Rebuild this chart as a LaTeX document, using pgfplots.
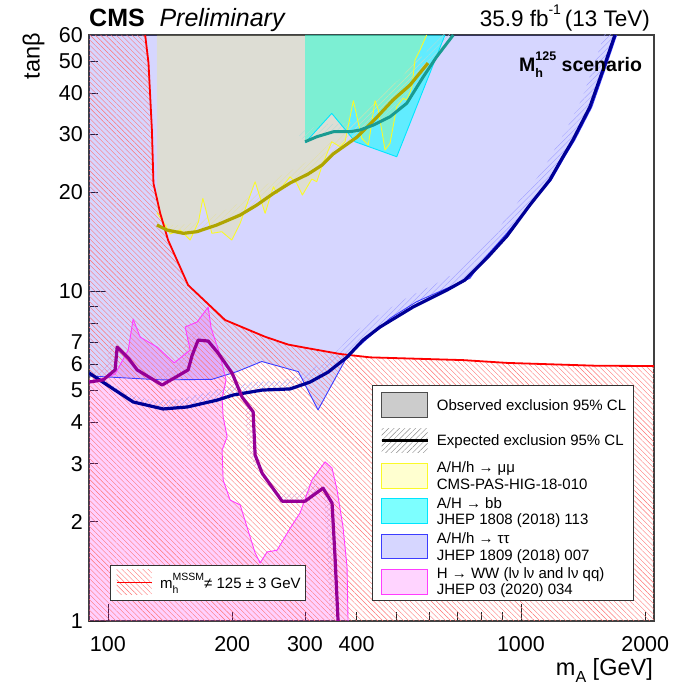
\documentclass[border=0pt]{standalone}
\usepackage{pgfplots}
\pgfplotsset{compat=1.18}
\usepackage{fontspec}
\setmainfont{Liberation Sans}
\usetikzlibrary{patterns.meta}

\definecolor{navyexp}{RGB}{0,0,150}
\definecolor{oliveexp}{RGB}{175,165,0}
\definecolor{tealexp}{RGB}{25,155,145}
\definecolor{purpleexp}{RGB}{150,0,150}
\definecolor{wwline}{RGB}{255,60,255}
\definecolor{ttline}{RGB}{60,60,255}
\definecolor{bbline}{RGB}{0,230,255}
\definecolor{mmline}{RGB}{250,250,40}
\definecolor{ttfill}{RGB}{0,0,255}
\definecolor{wwfill}{RGB}{255,0,255}
\definecolor{bbfill}{RGB}{0,255,255}
\definecolor{mmfill}{RGB}{255,255,0}
\definecolor{mhhatch}{RGB}{255,115,115}

\newcommand{\lgfont}{\fontsize{15}{18}\selectfont}
\newcommand{\smallscript}{\fontsize{10.5}{12}\selectfont}

\begin{document}
\begin{tikzpicture}[x=1pt,y=1pt]
\useasboundingbox (0,0) rectangle (674,688);
\begin{axis}[
  at={(89pt,67pt)}, anchor=south west,
  scale only axis, width=565pt, height=586pt,
  xmode=log, ymode=log,
  xmin=90, xmax=2100, ymin=1, ymax=60,
  axis line style={black!75, line width=1.1pt},
  tick pos=left, tick align=inside,
  major tick length=9pt, minor tick length=9pt,
  tick style={black!85, line width=0.7pt},
  xtick={100,200,300,400,1000,2000},
  xticklabels={100,200,300,400,1000,2000},
  minor xtick={500,600,700,800,900},
  extra x ticks={100,1000}, extra x tick labels={,},
  extra x tick style={major tick length=17pt},
  ytick={1,2,3,4,5,6,7,10,20,30,40,50,60},
  yticklabels={1,2,3,4,5,6,7,10,20,30,40,50,60},
  minor ytick={8,9},
  extra y ticks={1,10}, extra y tick labels={,},
  extra y tick style={major tick length=17pt},
  ticklabel style={font=\fontsize{21.5}{24}\selectfont},
  xticklabel style={inner sep=0pt, anchor=north, yshift=-15.5pt},
  yticklabel style={inner sep=0pt, anchor=east, xshift=-6pt},
]

% A/H/h -> tautau, observed exclusion
\addplot[fill=ttfill, fill opacity=0.16, draw=none] coordinates {
 (90,60) (90,5.54) (135.1,5.39) (178.5,5.41) (205.2,5.71) (235.8,6.13)
 (289.2,5.71) (322.7,4.37) (379.3,6.34) (482,8.29) (559.3,9.31) (661.3,10.22)
 (752.7,10.96) (809.5,12.45) (925,15.04) (1000,16.9) (1067,18.6) (1185,21.8)
 (1275,25.6) (1350,28.8) (1485,36.3) (1595,46.9) (1705,60)} --cycle;

% H -> WW, observed exclusion
\addplot[fill=wwfill, fill opacity=0.18, draw=none] coordinates {
 (90,1) (90,5.35) (98.5,5.46) (104.1,5.62) (112.0,6.64) (115.1,8.25) (119.7,7.27)
 (131.6,6.78) (144.7,6.07) (158.2,6.64) (153.8,7.80) (164.5,8.08) (174.9,8.97)
 (177.8,7.74) (185.9,6.55) (193.3,5.39) (189.0,4.75) (190.1,4.16) (194.4,3.62)
 (189.0,3.30) (190.1,2.68) (197.6,2.33) (209.0,2.25) (227.2,1.61) (233.6,1.50)
 (242.9,1.62) (256.8,1.64) (276.1,1.91) (292.0,2.13) (312.1,2.68) (335.6,3.04)
 (348.9,2.91) (358.8,2.50) (370.9,1.93) (379.3,1.46) (381.5,1)} --cycle;

% A/H -> bb, observed exclusion
\addplot[fill=bbfill, fill opacity=0.55, draw=none] coordinates {
 (300.2,60) (300.2,28.26) (348.3,34.7) (382.1,30.18) (396.6,28.46)
 (500.4,25.63) (654.8,60)} --cycle;

% A/H/h -> mumu, observed exclusion
\addplot[fill=mmfill, fill opacity=0.17, draw=none] coordinates {
 (131.4,60) (131.4,17.33) (137.6,15.91) (141.5,14.94) (149.6,15.36) (158.2,14.32)
 (165.7,16.27) (169.8,19.16) (178.5,15.01) (188.7,15.18) (199.5,14.32) (209.0,16.09)
 (218.9,18.94) (227.2,21.52) (240.2,17.26) (251.6,20.78) (256.4,19.84) (276.1,22.28)
 (286.6,21.28) (295.7,19.61) (311.6,21.93) (320.4,21.52) (329.4,23.89) (348.3,28.46)
 (364.8,27.48) (375.2,28.46) (392.9,37.9) (411.7,29.14) (427.1,27.81) (443.4,37.9)
 (451.6,35.5) (468.8,26.85) (482.0,28.14) (500.4,36.35) (519.1,38.54) (529.0,38.08)
 (544.0,41.33) (554.1,50.36) (569.7,54.0) (591.2,60)} --cycle;

% m_h outside 125 +- 3 GeV
\addplot[pattern={Lines[angle=-45,distance=3.7pt,line width=0.4pt]}, pattern color=mhhatch, draw=none] coordinates {
 (90,1) (90,60) (123.1,60) (125.4,49.3) (127.8,30.9) (128.9,21.3) (133.8,17.3)
 (139.9,14.3) (156.4,10.45) (192.2,8.19) (240,7.29) (273,6.9) (300,6.75) (365,6.46)
 (431,6.31) (724,6.19) (925,6.07) (1527,5.95) (2100,5.94) (2100,1)} --cycle;

% expected bands (hatched on the excluded side)
\addplot[pattern={Lines[angle=45,distance=3.8pt,line width=0.35pt]}, pattern color=ttfill!40, draw=none] coordinates {
 (90,5.66) (101.3,5.13) (115.1,4.62) (136.1,4.40) (155.6,4.46) (183.9,4.68) (201.0,4.85)
 (236.2,5.02) (276.1,5.06) (308.7,5.31) (341.2,5.69) (379.3,6.32) (414.7,7.12) (456,7.80)
 (548,8.97) (662.2,10.1) (732,10.83) (827.5,12.63) (925,14.73) (1051,18.29) (1175,21.8)
 (1264,25.6) (1336,28.8) (1469,36.3) (1579,46.9) (1689,60)
 (1615,63.4) (1510,49.6) (1405,38.39) (1278,30.46) (1209,27.07) (1124,23.05) (1005,19.34)
 (884.7,15.58) (791.4,13.36) (700.1,11.45) (633.3,10.68) (524.1,9.49) (436.1,8.25)
 (396.6,7.53) (362.8,6.68) (326.3,6.02) (295.2,5.62) (264.1,5.35) (225.9,5.31)
 (192.2,5.13) (175.9,4.95) (148.8,4.72) (130.2,4.65) (110.1,4.89) (96.9,5.42) (86.6,5.97)} --cycle;

\addplot[pattern={Lines[angle=45,distance=3.8pt,line width=0.35pt]}, pattern color=oliveexp!35, draw=none] coordinates {
 (131.4,15.91) (138.9,15.36) (152.4,15.01) (164.2,15.18) (183.6,15.91) (209.0,17.05)
 (229.4,18.29) (251.6,19.84) (276.1,21.33) (305.3,22.71) (330.0,24.18) (350.9,26.12)
 (401.2,29.41) (448.3,33.81) (490.0,38.1) (538.8,42.29) (595.7,49.3)
 (569.7,52.13) (515.3,44.72) (468.6,40.29) (428.8,35.75) (383.7,31.10) (335.6,27.62)
 (315.6,25.57) (292.0,24.02) (264.1,22.56) (240.6,20.98) (219.4,19.34) (199.9,18.03)
 (175.6,16.82) (157.0,16.05) (145.8,15.87) (132.8,16.24) (125.7,16.82)} --cycle;

\addplot[pattern={Lines[angle=45,distance=3.8pt,line width=0.35pt]}, pattern color=tealexp!35, draw=none] coordinates {
 (300.2,28.46) (320.4,29.47) (351.5,30.52) (385.7,30.52) (407.8,30.89) (439.2,31.98)
 (482.0,33.89) (529.0,37.21) (580.3,44.82) (625.2,51.53) (685.8,60)
 (655.9,63.45) (597.9,54.49) (555.0,47.40) (505.9,39.35) (461.0,35.84) (420.0,33.82)
 (390.0,32.67) (368.9,32.27) (336.2,32.27) (306.4,31.16) (287.1,30.10)} --cycle;

\addplot[pattern={Lines[angle=45,distance=3.8pt,line width=0.35pt]}, pattern color=purpleexp!40, draw=none] coordinates {
 (90,5.31) (97.4,5.39) (104.1,5.78) (105.3,6.78) (112.0,6.28) (117.7,5.78) (135.3,5.20)
 (156.4,5.78) (160.0,6.41) (165.4,7.12) (174.9,7.07) (184.9,6.50) (199.9,5.65) (211.3,4.78)
 (224.7,4.31) (227.2,3.19) (236.2,2.81) (264.1,2.31) (300.2,2.31) (331.8,2.53) (348.9,2.28)
 (354.8,1.56) (360.8,1)
 (345.1,1) (339.3,1.65) (333.7,2.41) (317.3,2.68) (287.1,2.44) (252.6,2.44) (225.9,2.97)
 (217.3,3.37) (214.9,4.56) (202.1,5.05) (191.2,5.97) (176.8,6.87) (167.3,7.48) (158.2,7.53)
 (153.0,6.78) (149.6,6.11) (129.4,5.50) (112.6,6.11) (107.1,6.64) (100.7,7.17) (99.6,6.11)
 (93.2,5.70) (86.1,5.62)} --cycle;

% observed boundaries
\addplot[ttline, line width=0.9pt, line join=round] coordinates {
 (90,5.54) (135.1,5.39) (178.5,5.41) (205.2,5.71) (235.8,6.13)
 (289.2,5.71) (322.7,4.37) (379.3,6.34) (482,8.29) (559.3,9.31) (661.3,10.22)
 (752.7,10.96) (809.5,12.45) (925,15.04) (1000,16.9) (1067,18.6) (1185,21.8)
 (1275,25.6) (1350,28.8) (1485,36.3) (1595,46.9) (1705,60)};
\addplot[wwline, line width=0.9pt, line join=round] coordinates {
 (90,5.35) (98.5,5.46) (104.1,5.62) (112.0,6.64) (115.1,8.25) (119.7,7.27)
 (131.6,6.78) (144.7,6.07) (158.2,6.64) (153.8,7.80) (164.5,8.08) (174.9,8.97)
 (177.8,7.74) (185.9,6.55) (193.3,5.39) (189.0,4.75) (190.1,4.16) (194.4,3.62)
 (189.0,3.30) (190.1,2.68) (197.6,2.33) (209.0,2.25) (227.2,1.61) (233.6,1.50)
 (242.9,1.62) (256.8,1.64) (276.1,1.91) (292.0,2.13) (312.1,2.68) (335.6,3.04)
 (348.9,2.91) (358.8,2.50) (370.9,1.93) (379.3,1.46) (381.5,1)};
\addplot[bbline, line width=0.9pt, line join=round] coordinates {
 (300.2,28.26) (348.3,34.7) (382.1,30.18) (396.6,28.46) (500.4,25.63) (654.8,60)};
\addplot[mmline, line width=0.9pt, line join=round] coordinates {
 (131.4,17.33) (137.6,15.91) (141.5,14.94) (149.6,15.36) (158.2,14.32)
 (165.7,16.27) (169.8,19.16) (178.5,15.01) (188.7,15.18) (199.5,14.32) (209.0,16.09)
 (218.9,18.94) (227.2,21.52) (240.2,17.26) (251.6,20.78) (256.4,19.84) (276.1,22.28)
 (286.6,21.28) (295.7,19.61) (311.6,21.93) (320.4,21.52) (329.4,23.89) (348.3,28.46)
 (364.8,27.48) (375.2,28.46) (392.9,37.9) (411.7,29.14) (427.1,27.81) (443.4,37.9)
 (451.6,35.5) (468.8,26.85) (482.0,28.14) (500.4,36.35) (519.1,38.54) (529.0,38.08)
 (544.0,41.33) (554.1,50.36) (569.7,54.0) (591.2,60)};

% m_h boundary
\addplot[red, line width=1.8pt, line join=round] coordinates {
 (123.1,60) (125.4,49.3) (127.8,30.9) (128.9,21.3) (133.8,17.3)
 (139.9,14.3) (156.4,10.45) (192.2,8.19) (240,7.29) (273,6.9) (300,6.75) (365,6.46)
 (431,6.31) (724,6.19) (925,6.07) (1527,5.95) (2100,5.94)};

% expected exclusions
\addplot[navyexp, line width=3.2pt, line join=round] coordinates {
 (90,5.66) (101.3,5.13) (115.1,4.62) (136.1,4.40) (155.6,4.46) (183.9,4.68) (201.0,4.85)
 (236.2,5.02) (276.1,5.06) (308.7,5.31) (341.2,5.69) (379.3,6.32) (414.7,7.12) (456,7.80)
 (548,8.97) (662.2,10.1) (732,10.83) (827.5,12.63) (925,14.73) (1051,18.29) (1175,21.8)
 (1264,25.6) (1336,28.8) (1469,36.3) (1579,46.9) (1689,60)};
\addplot[oliveexp, line width=3.2pt, line join=round] coordinates {
 (131.4,15.91) (138.9,15.36) (152.4,15.01) (164.2,15.18) (183.6,15.91) (209.0,17.05)
 (229.4,18.29) (251.6,19.84) (276.1,21.33) (305.3,22.71) (330.0,24.18) (350.9,26.12)
 (401.2,29.41) (448.3,33.81) (490.0,38.1) (538.8,42.29) (595.7,49.3)};
\addplot[tealexp, line width=3pt, line join=round] coordinates {
 (300.2,28.46) (320.4,29.47) (351.5,30.52) (385.7,30.52) (407.8,30.89) (439.2,31.98)
 (482.0,33.89) (529.0,37.21) (580.3,44.82) (625.2,51.53) (685.8,60)};
\addplot[purpleexp, line width=3.2pt, line join=round] coordinates {
 (90,5.31) (97.4,5.39) (104.1,5.78) (105.3,6.78) (112.0,6.28) (117.7,5.78) (135.3,5.20)
 (156.4,5.78) (160.0,6.41) (165.4,7.12) (174.9,7.07) (184.9,6.50) (199.9,5.65) (211.3,4.78)
 (224.7,4.31) (227.2,3.19) (236.2,2.81) (264.1,2.31) (300.2,2.31) (331.8,2.53) (348.9,2.28)
 (354.8,1.56) (360.8,1)};
\end{axis}

% header
\node[anchor=base west, inner sep=0pt, font=\fontsize{25}{28}\selectfont\bfseries] at (89,661.3) {CMS};
\node[anchor=base west, inner sep=0pt, font=\fontsize{25}{28}\selectfont\itshape] at (159.3,661.3) {Preliminary};
\node[anchor=base east, inner sep=0pt, font=\fontsize{22.5}{26}\selectfont] at (650,661.3)
  {35.9 fb\raisebox{0.55em}{\fontsize{14}{16}\selectfont -1}\,(13 TeV)};
\node[anchor=base west, inner sep=0pt, font=\fontsize{19.5}{22}\selectfont\bfseries] at (519,616.3)
  {M\rlap{\raisebox{-0.3em}{\fontsize{12.5}{14}\selectfont h}}\raisebox{0.55em}{\fontsize{12.5}{14}\selectfont 125}\ scenario};

% axis titles
\node[anchor=base east, inner sep=0pt, rotate=90, font=\fontsize{23.5}{26}\selectfont] at (39.5,655) {tanβ};
\node[anchor=base east, inner sep=0pt, font=\fontsize{23.5}{26}\selectfont] at (653,12.5)
  {m\raisebox{-0.3em}{\fontsize{16}{18}\selectfont A} [GeV]};

% legend of the exclusions
\begin{scope}[font=\lgfont]
\draw[black!80, line width=0.8pt, fill=white] (372,88) rectangle (633,303);
\draw[fill={rgb,255:red,204;green,204;blue,204}, draw=black!70, line width=0.8pt] (381.7,270.7) rectangle (427.7,295.3);
\node[anchor=base west, inner sep=0pt] at (436.7,277.7) {Observed exclusion 95\% CL};
\fill[pattern={Lines[angle=45,distance=3.8pt,line width=0.45pt]}, pattern color=black!45] (381.7,235.3) rectangle (427.7,259.9);
\draw[black, line width=3.2pt] (381.7,247.6) -- (427.7,247.6);
\node[anchor=base west, inner sep=0pt] at (436.7,242.3) {Expected exclusion 95\% CL};
\draw[fill={rgb,255:red,255;green,255;blue,208}, draw=mmline, line width=0.9pt] (381.7,199.9) rectangle (427.7,224.5);
\node[anchor=base west, inner sep=0pt] at (436.7,215.3) {A/H/h → μμ};
\node[anchor=base west, inner sep=0pt] at (436.7,198.7) {CMS-PAS-HIG-18-010};
\draw[fill={rgb,255:red,125;green,255;blue,255}, draw=bbline, line width=0.9pt] (381.7,164.5) rectangle (427.7,189.1);
\node[anchor=base west, inner sep=0pt] at (436.7,179.9) {A/H → bb};
\node[anchor=base west, inner sep=0pt] at (436.7,163.3) {JHEP 1808 (2018) 113};
\draw[fill={rgb,255:red,214;green,214;blue,255}, draw=ttline, line width=0.9pt] (381.7,129.1) rectangle (427.7,153.7);
\node[anchor=base west, inner sep=0pt] at (436.7,144.5) {A/H/h → ττ};
\node[anchor=base west, inner sep=0pt] at (436.7,127.9) {JHEP 1809 (2018) 007};
\draw[fill={rgb,255:red,255;green,212;blue,255}, draw=wwline, line width=0.9pt] (381.7,93.7) rectangle (427.7,118.3);
\node[anchor=base west, inner sep=0pt] at (436.7,109.1) {H → WW (lν lν and lν qq)};
\node[anchor=base west, inner sep=0pt] at (436.7,93.5) {JHEP 03 (2020) 034};
\end{scope}

% legend of the m_h constraint
\begin{scope}[font=\lgfont]
\draw[black!80, line width=0.8pt, fill=white] (110,88) rectangle (305.7,123);
\fill[pattern={Lines[angle=-45,distance=3.7pt,line width=0.4pt]}, pattern color=mhhatch] (116.7,93) rectangle (151.7,118);
\draw[red, line width=1.6pt] (116.7,105.3) -- (151.7,105.3);
\node[anchor=base west, inner sep=0pt] at (160,99.7)
  {m\rlap{\raisebox{-0.35em}{\smallscript h}}\raisebox{0.5em}{\smallscript MSSM}≠ 125 ± 3 GeV};
\end{scope}
\end{tikzpicture}
\end{document}
